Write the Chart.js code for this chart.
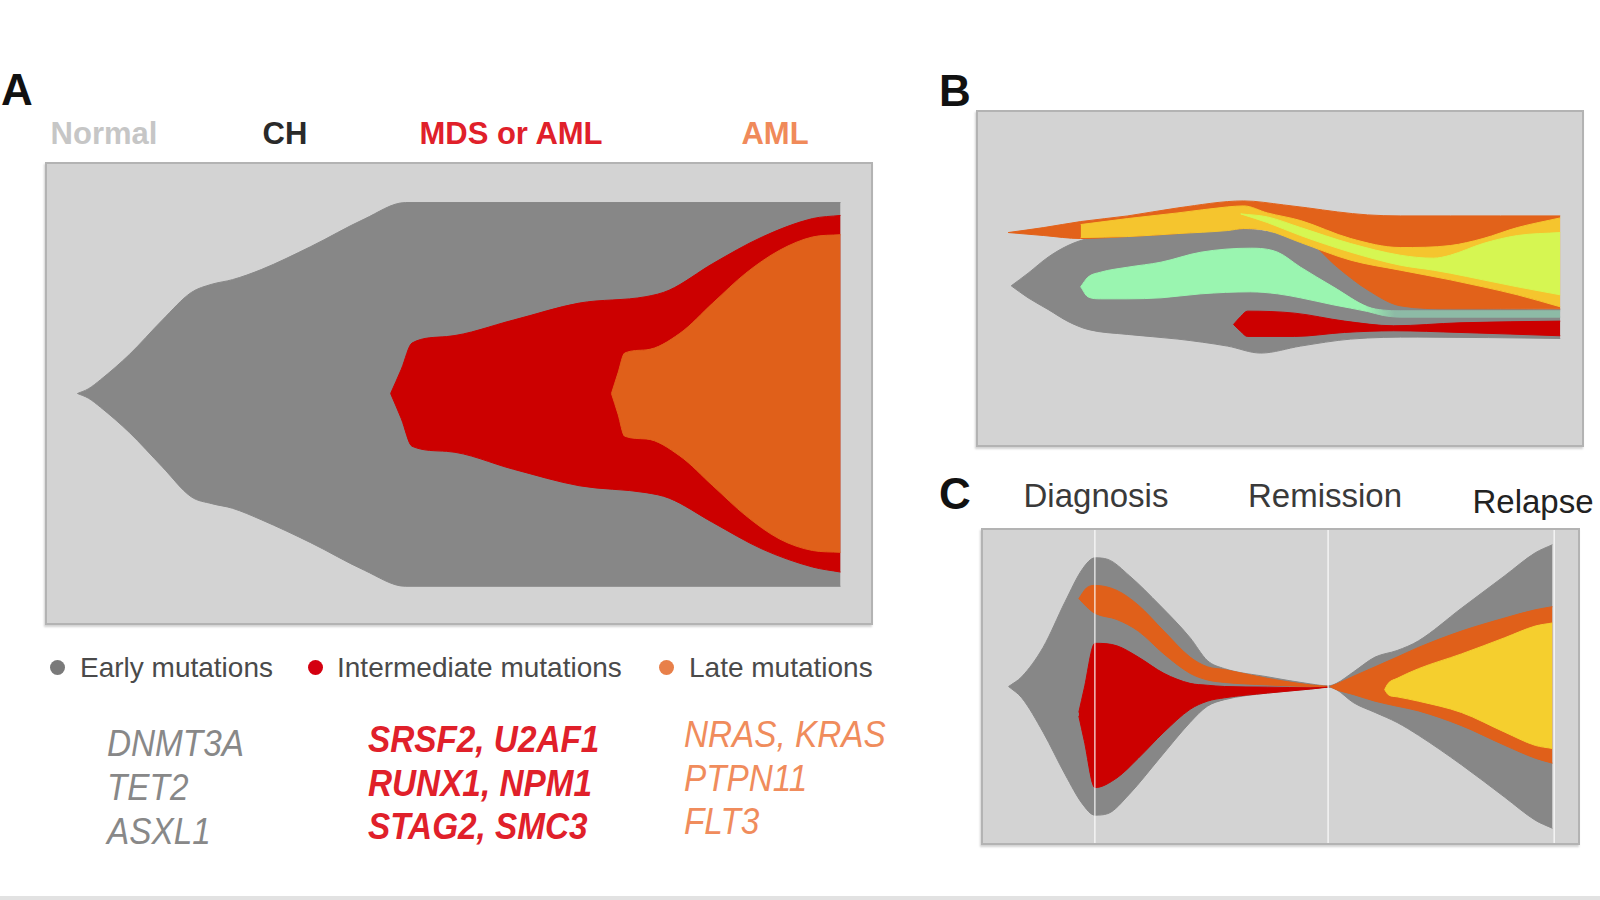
<!DOCTYPE html>
<html>
<head>
<meta charset="utf-8">
<script src="https://cdn.jsdelivr.net/npm/chart.js@4.4.1/dist/chart.umd.min.js"></script>
<style>
  html, body { margin: 0; padding: 0; background: #fff; }
  #page { position: relative; width: 1600px; height: 900px; overflow: hidden; font-family: "Liberation Sans", Arial, sans-serif; }
  .abs { position: absolute; white-space: nowrap; line-height: 1; }
  .box { position: absolute; background: #d3d3d3; border: 2px solid #b3b3b3; box-shadow: -1px 2px 2px rgba(0,0,0,0.18); }
  .box canvas { display: block; }
  .panel { font-weight: bold; font-size: 44px; color: #111; }
  .stage { font-weight: bold; font-size: 31px; text-align: center; width: 240px; }
  .time { font-size: 33px; color: #3a3a3a; text-align: center; width: 200px; }
  .legend { font-size: 28px; color: #4a4a4a; }
  .dot { position: absolute; width: 15px; height: 15px; border-radius: 50%; }
  .genes { position: absolute; font-size: 37px; font-style: italic; transform: scaleX(0.9); transform-origin: left top; white-space: nowrap; }
</style>
</head>
<body>
<div id="page">
  <div class="abs panel" style="left:1px; top:68px;">A</div>
  <div class="abs panel" style="left:939px; top:69px;">B</div>
  <div class="abs panel" style="left:939px; top:472px;">C</div>

  <div id="stages"></div>

  <div class="box" style="left:45px; top:162px;"><canvas id="chartA" width="824" height="459"></canvas></div>
  <div class="box" style="left:976px; top:110px;"><canvas id="chartB" width="604" height="333"></canvas></div>
  <div class="box" style="left:981px; top:528px;"><canvas id="chartC" width="595" height="313"></canvas></div>

  <div id="times"></div>
  <div id="legend"></div>

  <div class="genes" style="left:107px; top:722px; line-height:44px; color:#888;">DNMT3A<br>TET2<br>ASXL1</div>
  <div class="genes" style="left:368px; top:718px; line-height:43.5px; color:#e0202a; font-weight:bold;">SRSF2, U2AF1<br>RUNX1, NPM1<br>STAG2, SMC3</div>
  <div class="genes" style="left:684px; top:713px; line-height:43.5px; color:#f08c5c;">NRAS, KRAS<br>PTPN11<br>FLT3</div>

  <div style="position:absolute; left:0; top:896px; width:1600px; height:4px; background:#e2e2e2;"></div>
</div>

<script>
// ---- Panel A: stages over the top of the fish plot
const aStageLabels = ['Normal', 'CH', 'MDS or AML', 'AML'];
const aStageColors = ['#c6c6c6', '#2a2a2a', '#e0202a', '#f08a5a'];
const aStageCenters = [104, 285, 511, 775];

// Panel A clones (x = time 0-100, y = clone size, centred on 0)
const aEarlyX   = [3.7, 5.0, 6.5, 10.0, 14.0, 17.5, 20.0, 22.5, 26.0, 32.0, 38.5, 43.5, 96.3];
const aEarlyTop = [0, 1.0, 3.0, 8.5, 16.0, 22.0, 23.8, 24.8, 27.0, 32.0, 38.0, 41.6, 41.6];
const aEarlyBot = [0, -1.0, -3.0, -8.5, -16.0, -22.5, -24.0, -25.0, -27.5, -32.5, -38.5, -42.0, -42.0];

const aInterX   = [41.7, 43.0, 44.3, 48.5, 56.6, 64.6, 72.7, 75.5, 80.8, 86.8, 92.9, 96.3];
const aInterTop = [0, 5.3, 11.0, 12.4, 16.0, 19.7, 21.1, 22.5, 28.3, 34.1, 38.1, 38.8];
const aInterBot = [0, -5.5, -11.5, -12.6, -16.5, -20.1, -21.6, -22.8, -28.1, -33.9, -37.8, -38.9];

const aLateX   = [68.5, 69.3, 70.1, 72.7, 76.8, 80.8, 84.8, 88.9, 92.9, 96.3];
const aLateTop = [0, 4.5, 8.8, 9.5, 13.1, 19.7, 26.2, 31.2, 34.1, 34.6];
const aLateBot = [0, -4.5, -9.3, -9.9, -13.6, -20.1, -26.6, -31.7, -34.2, -34.6];

// Panel B clones (y = 0 at bottom of box, 100 at top)
const bGrayX   = [5.5, 8.3, 11.6, 14.9, 18.2, 24.8, 33.1, 41.3, 46.8, 53.4, 61.7, 72.7, 96.4];
const bGrayTop = [47.8, 51.6, 56.4, 59.9, 62.0, 63.2, 64.1, 65.0, 64.4, 61.4, 52.5, 42.1, 40.7];
const bGrayBot = [47.8, 44.2, 40.7, 37.1, 34.7, 33.2, 31.8, 29.7, 27.6, 29.7, 31.8, 32.4, 32.0];

const bOrangeX   = [5.0, 10.9, 17.0, 24.8, 33.1, 44.0, 50.6, 54.6, 59.5, 64.5, 69.9, 78.2, 86.5, 96.4];
const bOrangeTop = [63.8, 65.3, 67.1, 68.8, 71.2, 73.3, 72.1, 71.2, 70.0, 69.1, 68.8, 68.8, 68.8, 68.8];
const bOrangeBot = [63.8, 62.9, 62.0, 62.6, 63.5, 65.0, 64.1, 61.4, 53.4, 46.6, 41.8, 40.9, 40.9, 40.9];

const bGoldX   = [17.0, 24.8, 33.1, 41.3, 44.0, 47.9, 53.4, 61.7, 69.9, 78.2, 83.6, 89.3, 96.4];
const bGoldTop = [66.2, 68.0, 69.7, 71.5, 71.8, 69.7, 67.4, 62.0, 59.3, 59.9, 62.0, 65.3, 68.2];
const bGoldBot = [62.3, 62.6, 63.5, 64.4, 65.0, 64.4, 60.8, 55.5, 52.5, 49.6, 47.5, 45.1, 41.5];

const bLimeX   = [43.5, 47.9, 53.4, 61.7, 69.9, 75.4, 78.2, 83.6, 89.3, 96.4];
const bLimeTop = [69.4, 68.5, 65.3, 60.5, 57.0, 56.1, 57.0, 60.5, 62.9, 63.8];
const bLimeBot = [69.4, 66.8, 62.9, 57.9, 54.0, 52.5, 51.6, 49.6, 47.5, 45.1];

const bMintX   = [17.0, 18.2, 20.3, 24.8, 30.3, 36.9, 45.1, 49.6, 53.4, 58.8, 64.5, 67.1, 69.9, 96.4];
const bMintTop = [47.5, 50.4, 51.9, 53.4, 54.9, 57.9, 59.1, 57.9, 53.4, 47.5, 41.5, 40.5, 40.3, 40.3];
const bMintBot = [47.5, 44.5, 43.9, 43.9, 44.2, 45.4, 46.0, 45.4, 44.2, 42.1, 40.1, 38.9, 38.4, 38.4];

const bRedX   = [42.3, 43.5, 44.6, 52.4, 60.7, 68.8, 79.8, 96.4];
const bRedTop = [36.2, 38.6, 40.2, 39.6, 37.2, 35.8, 36.7, 37.2];
const bRedBot = [36.2, 34.1, 32.6, 32.6, 33.8, 34.3, 33.8, 32.8];

// Panel C: diagnosis -> remission -> relapse
const cTimeLabels  = ['Diagnosis', 'Remission', 'Relapse'];
const cTimeCenters = [1096, 1325, 1533];
const cTimeX = [18.8, 58.0, 96.0];

const cGrayX   = [4.3, 6.5, 10.1, 13.8, 16.7, 18.8, 21.0, 24.6, 29.7, 34.8, 37.7, 40.6, 47.8, 55.1, 58.0, 59.4, 62.3, 65.9, 69.6, 73.2, 80.4, 87.7, 92.8, 95.7];
const cGrayTop = [0, 3.1, 12.5, 27.1, 37.5, 41.1, 40.6, 35.4, 26.0, 15.6, 8.3, 5.7, 3.1, 0.8, 0.2, 1.0, 4.7, 9.4, 11.5, 14.6, 25.0, 35.4, 42.7, 45.3];
const cGrayBot = [0, -3.6, -14.6, -28.1, -37.5, -41.1, -40.6, -34.4, -22.9, -11.5, -6.3, -4.2, -2.1, -0.8, -0.2, -1.0, -5.2, -8.3, -11.5, -15.6, -25.0, -35.4, -42.7, -45.3];

const cOrangeDxX   = [16.1, 17.4, 18.8, 22.5, 26.1, 30.4, 34.8, 37.7, 40.6, 47.8, 55.1, 58.0];
const cOrangeDxTop = [28.1, 31.5, 32.3, 30.7, 26.0, 17.7, 9.4, 6.3, 5.4, 2.6, 0.5, 0.05];
const cOrangeDxBot = [28.1, 25.5, 23.4, 21.4, 17.7, 10.4, 4.2, 2.1, 1.3, 0.5, 0.0, -0.05];

const cRedX   = [16.1, 17.0, 18.8, 22.5, 26.1, 30.4, 34.8, 37.7, 40.6, 47.8, 55.1, 58.0];
const cRedTop = [-8.3, -0.7, 13.8, 13.0, 9.4, 4.2, 1.0, 0.4, 0.0, -0.2, -0.4, -0.2];
const cRedBot = [-9.4, -17.2, -32.3, -29.2, -22.9, -14.6, -7.3, -4.7, -3.6, -2.1, -0.8, -0.2];

const cOrangeRelX   = [58.3, 59.4, 62.3, 65.9, 69.6, 73.2, 80.4, 87.7, 92.8, 95.7];
const cOrangeRelTop = [0, 0.8, 3.3, 6.3, 9.4, 12.5, 17.7, 21.9, 24.5, 25.5];
const cOrangeRelBot = [0, -1.0, -2.6, -4.7, -6.3, -7.8, -12.5, -18.8, -22.9, -24.5];

const cYellowX   = [67.5, 68.1, 69.6, 73.2, 80.4, 87.7, 92.8, 95.7];
const cYellowTop = [-1.0, 1.0, 2.6, 5.7, 10.4, 15.6, 19.3, 20.3];
const cYellowBot = [-1.0, -2.6, -3.3, -4.7, -8.3, -14.6, -18.8, -19.8];

// Legend
const legendLabels = ['Early mutations', 'Intermediate mutations', 'Late mutations'];
const legendColors = ['#7a7a7a', '#d40010', '#e8804a'];
const legendDotX = [57, 315, 666];
const legendTextX = [80, 337, 689];

const GRAY = '#878787', RED = '#cc0000', ORANGE = '#e0601a';

// mint clone in B thins into a dull teal ribbon on the right
function mintFade(context) {
    const chart = context.chart;
    const area = chart.chartArea;
    if (!area) return '#9af5b0';
    const p = (chart.scales.x.getPixelForValue(64) - area.left) / (area.right - area.left);
    const g = chart.ctx.createLinearGradient(area.left, 0, area.right, 0);
    g.addColorStop(0, '#9af5b0');
    g.addColorStop(p, '#9af5b0');
    g.addColorStop(Math.min(1, p + 0.05), '#8dbaa6');
    g.addColorStop(1, '#8dbaa6');
    return g;
}

// one clone = upper line filled down to the lower line
function band(xs, tops, bots, color, layer) {
    const pts = ys => xs.map((x, i) => ({ x: x, y: ys[i] }));
    const common = {
        borderColor: color,
        borderWidth: 1,
        pointRadius: 0,
        cubicInterpolationMode: 'monotone',
        order: 100 - layer
    };
    return [
        Object.assign({ data: pts(tops), fill: '+1', backgroundColor: color }, common),
        Object.assign({ data: pts(bots), fill: false }, common)
    ];
}

function fishChart(id, bands, yMin, yMax, extra) {
    let datasets = [];
    bands.forEach((b, i) => { datasets = datasets.concat(band(b[0], b[1], b[2], b[3], i)); });
    if (extra) datasets = datasets.concat(extra);
    return new Chart(document.getElementById(id), {
        type: 'line',
        data: { datasets: datasets },
        options: {
            responsive: false,
            animation: false,
            events: [],
            layout: { padding: 0 },
            scales: {
                x: { type: 'linear', min: 0, max: 100, display: false },
                y: { type: 'linear', min: yMin, max: yMax, display: false }
            },
            plugins: { legend: { display: false }, tooltip: { enabled: false } }
        }
    });
}

fishChart('chartA', [
    [aEarlyX, aEarlyTop, aEarlyBot, GRAY],
    [aInterX, aInterTop, aInterBot, RED],
    [aLateX, aLateTop, aLateBot, ORANGE]
], -50, 50);

fishChart('chartB', [
    [bGrayX, bGrayTop, bGrayBot, GRAY],
    [bOrangeX, bOrangeTop, bOrangeBot, '#e2621a'],
    [bGoldX, bGoldTop, bGoldBot, '#f5c52e'],
    [bLimeX, bLimeTop, bLimeBot, '#d6f652'],
    [bMintX, bMintTop, bMintBot, mintFade],
    [bRedX, bRedTop, bRedBot, RED]
], 0, 100);

const timeLines = cTimeX.map(x => ({
    data: [{ x: x, y: -50 }, { x: x, y: 50 }],
    borderColor: 'rgba(255,255,255,0.75)',
    borderWidth: 1.5,
    pointRadius: 0,
    fill: false,
    order: 0
}));

fishChart('chartC', [
    [cGrayX, cGrayTop, cGrayBot, GRAY],
    [cOrangeDxX, cOrangeDxTop, cOrangeDxBot, ORANGE],
    [cRedX, cRedTop, cRedBot, RED],
    [cOrangeRelX, cOrangeRelTop, cOrangeRelBot, ORANGE],
    [cYellowX, cYellowTop, cYellowBot, '#f5cf2e']
], -50, 50, timeLines);

// text around the charts
const stages = document.getElementById('stages');
aStageLabels.forEach((t, i) => {
    const d = document.createElement('div');
    d.className = 'abs stage';
    d.style.left = (aStageCenters[i] - 120) + 'px';
    d.style.top = '118px';
    d.style.color = aStageColors[i];
    d.textContent = t;
    stages.appendChild(d);
});

const times = document.getElementById('times');
cTimeLabels.forEach((t, i) => {
    const d = document.createElement('div');
    d.className = 'abs time';
    d.style.left = (cTimeCenters[i] - 100) + 'px';
    d.style.top = (i === 2 ? 485 : 479) + 'px';
    if (i === 2) d.style.color = '#222';
    d.textContent = t;
    times.appendChild(d);
});

const legend = document.getElementById('legend');
legendLabels.forEach((t, i) => {
    const dot = document.createElement('div');
    dot.className = 'dot';
    dot.style.left = (legendDotX[i] - 7.5) + 'px';
    dot.style.top = '660px';
    dot.style.background = legendColors[i];
    legend.appendChild(dot);
    const d = document.createElement('div');
    d.className = 'abs legend';
    d.style.left = legendTextX[i] + 'px';
    d.style.top = '654px';
    d.textContent = t;
    legend.appendChild(d);
});
</script>
</body>
</html>
